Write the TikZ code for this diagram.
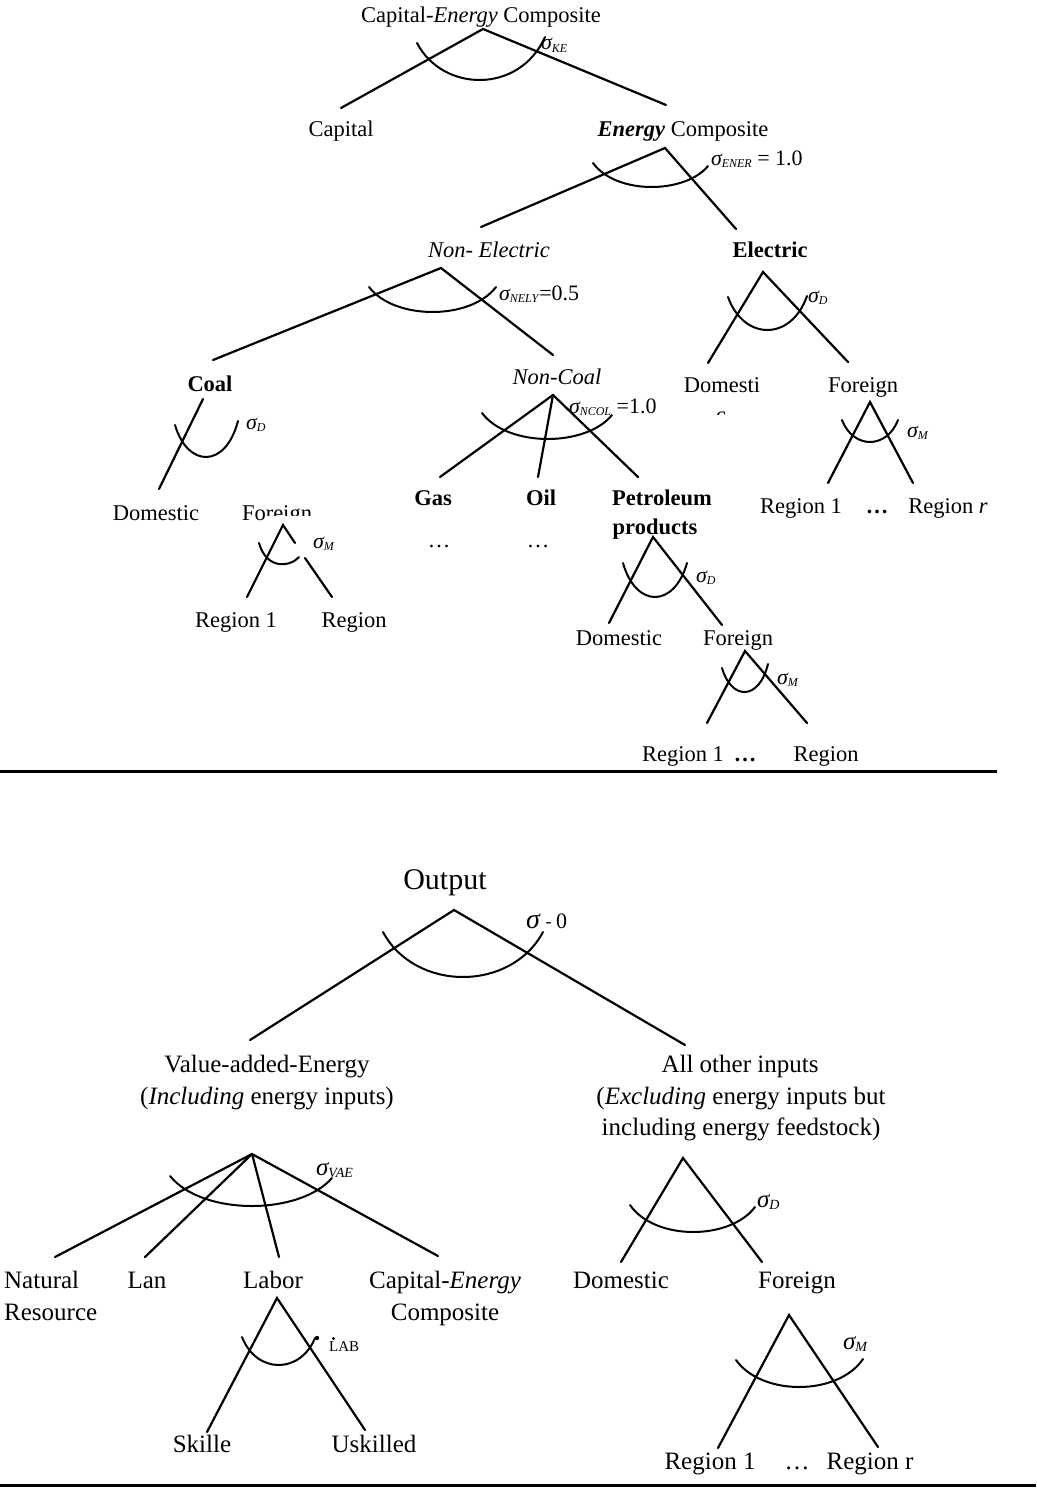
\documentclass[tikz,border=0pt]{standalone}
\usepackage{fontspec}
\setmainfont{Liberation Serif}
\usetikzlibrary{calc}
\newcommand\sgm[1]{\textit{σ}\kern-1pt\raisebox{-2pt}{\fontsize{12}{12}\selectfont\textit{#1}}}
\newcommand\sgmb[1]{\textit{σ}\kern-1pt\raisebox{-2pt}{\fontsize{14}{14}\selectfont\textit{#1}}}
\newcommand\uarc[3]{%
  \coordinate (ua) at (#1); \coordinate (ub) at (#2); \coordinate (uc) at (#3);
  \draw[arcst] let \p1=(ua), \p2=(ub), \p3=(uc) in
    (\p1) .. controls (\x1+0.2*\x3-0.2*\x1, \y1+1.333*\y2-1.333*\y1)
             and (\x3-0.2*\x3+0.2*\x1, \y3+1.333*\y2-1.333*\y3) .. (\p3);}
\tikzset{
  br/.style={line width=2.2pt, line cap=round},
  arcst/.style={line width=2pt, line cap=round},
  sep/.style={line width=3pt},
  lt/.style={anchor=base, inner sep=0pt, font=\fontsize{22.5}{24}\selectfont},
  lb/.style={anchor=base, inner sep=0pt, font=\fontsize{25}{27}\selectfont},
  lo/.style={anchor=base, inner sep=0pt, font=\fontsize{30}{32}\selectfont},
  sgl/.style={anchor=base west, inner sep=0pt, font=\fontsize{22}{24}\selectfont},
  sglb/.style={anchor=base west, inner sep=0pt, font=\fontsize{25}{26}\selectfont},
}
\begin{document}
\begin{tikzpicture}[x=1pt,y=-1pt]
\useasboundingbox (0,0) rectangle (1036,1488);
\fill[white] (0,0) rectangle (1036,1488);

% ---------------- top section: text ----------------
\node[lt] (cec) at (481,23) {Capital-\textit{Energy} Composite};
\node[lt] (cap) at (341,136) {Capital};
\node[lt] (enc) at (683,136) {\textbf{\textit{Energy}} Composite};
\node[lt] (nel) at (489,257) {\textit{Non- Electric}};
\node[lt] (ele) at (770,257) {\textbf{Electric}};
\node[lt] (coal) at (210,391) {\textbf{Coal}};
\node[lt] (nco) at (557,384) {\textit{Non-Coal}};
\node[lt] (edom) at (722,392) {Domesti};
\begin{scope}
  \clip (700,408) rectangle (745,414.5);
  \node[lt] (edomc) at (721,422) {c};
\end{scope}
\node[lt] (efor) at (863,392) {Foreign};
\node[lt] (cdom) at (156,520) {Domestic};
\node[lt] (cfor) at (277,520) {Foreign};
\fill[white] (266,515.5) rectangle (318,530);
\node[lt] (cr1) at (236,627) {Region 1};
\node[lt] (cr2) at (354,627) {Region};
\node[lt] (gas) at (433,505) {\textbf{Gas}};
\node[lt] (oil) at (541,505) {\textbf{Oil}};
\node[lt] (pet) at (662,505) {\textbf{Petroleum}};
\node[lt] (prd) at (655,534) {\textbf{products}};
\node[lt] (gdots) at (439,547) {…};
\node[lt] (odots) at (538,547) {…};
\node[lt] (pdom) at (619,645) {Domestic};
\node[lt] (pfor) at (738,645) {Foreign};
\node[lt] (pr1) at (683,761) {Region 1};
\node[lt] (pdots) at (745,761) {\textbf{…}};
\node[lt] (pr2) at (826,761) {Region};
\node[lt] (er1) at (801,513) {Region 1};
\node[lt] (edots) at (877,513) {\textbf{…}};
\node[lt] (er2) at (948,513) {Region \textit{r}};

% sigma labels (top)
\node[sgl] (s1) at (541,50) {\sgm{KE}};
\node[sgl] (s2) at (711,165) {\sgm{ENER} = 1.0};
\node[sgl] (s3) at (499,300) {\sgm{NELY}=0.5};
\node[sgl] (s4) at (808,302) {\sgm{D}};
\node[sgl] (s5) at (246,429) {\sgm{D}};
\node[sgl] (s6) at (569,413) {\sgm{NCOL} =1.0};
\node[sgl] (s7) at (907,437) {\sgm{M}};
\node[sgl] (s8) at (313,548) {\sgm{M}};
\node[sgl] (s9) at (696,582) {\sgm{D}};
\node[sgl] (s10) at (777,684) {\sgm{M}};

% ---------------- top section: branches ----------------
% Capital-Energy Composite
\coordinate (a1) at (483,29);
\coordinate (a1l) at (341,108);
\coordinate (a1r) at (666,105);
\draw[br] (a1l) -- (a1) -- (a1r);
\uarc{417,43}{482,80}{545,37}
% Energy Composite
\coordinate (a2) at (665,148);
\coordinate (a2l) at (481,227);
\coordinate (a2r) at (736,229);
\draw[br] (a2l) -- (a2) -- (a2r);
\uarc{593,163}{647,187}{708,166}
% Non-Electric
\coordinate (a3) at (441,268);
\coordinate (a3l) at (213,360);
\coordinate (a3r) at (553,355);
\draw[br] (a3l) -- (a3) -- (a3r);
\uarc{369,287}{433,312}{496,287}
% Electric
\coordinate (a4) at (763,272);
\coordinate (a4l) at (708,363);
\coordinate (a4r) at (848,362);
\draw[br] (a4l) -- (a4) -- (a4r);
\uarc{728,297}{763,330}{807,296}
% Coal
\coordinate (a5) at (203,399);
\coordinate (a5l) at (159,489);
\draw[br] (a5) -- (a5l);
\uarc{175,425}{207,457}{238,421}
% Electric foreign
\coordinate (a6) at (870,402);
\coordinate (a6l) at (828,483);
\coordinate (a6r) at (913,483);
\draw[br] (a6l) -- (a6) -- (a6r);
\uarc{842,420}{868,442}{898,420}
% Coal foreign
\coordinate (a7) at (283,525);
\coordinate (a7l) at (247,597);
\coordinate (a7m) at (295,543);
\coordinate (a7s) at (305,558);
\coordinate (a7r) at (332,597);
\draw[br] (a7l) -- (a7) -- (a7m);
\draw[br] (a7s) -- (a7r);
\uarc{259,543}{281,564}{299,557}
% Non-Coal
\coordinate (a8) at (553,395);
\coordinate (a8l) at (440,477);
\coordinate (a8m) at (538,477);
\coordinate (a8r) at (638,477);
\draw[br] (a8l) -- (a8) -- (a8r);
\draw[br] (a8) -- (a8m);
\uarc{482,413}{547,439}{612,415}
% Petroleum products
\coordinate (a9) at (653,537);
\coordinate (a9l) at (609,623);
\coordinate (a9r) at (722,625);
\draw[br] (a9l) -- (a9) -- (a9r);
\uarc{623,563}{655,597}{687,563}
% Petroleum foreign
\coordinate (a10) at (745,651);
\coordinate (a10l) at (707,723);
\coordinate (a10r) at (807,723);
\draw[br] (a10l) -- (a10) -- (a10r);
\uarc{722,668}{745,692}{768,664}

% separators
\coordinate (sepa) at (0,771);
\coordinate (sepb) at (997,771);
\draw[sep] (sepa) -- (sepb);
\coordinate (sepc) at (0,1485);
\coordinate (sepd) at (1036,1485);
\draw[sep] (sepc) -- (sepd);

% ---------------- bottom section: text ----------------
\node[lo] (out) at (445,889) {Output};
\node[anchor=base west, inner sep=0pt] (s11) at (526,928)
  {\fontsize{28}{30}\selectfont\textit{σ}\,\raisebox{1pt}{\fontsize{18}{18}\selectfont -}\,\fontsize{22}{24}\selectfont 0};
\node[lb] (vae) at (267,1072) {Value-added-Energy};
\node[lb] (vae2) at (267,1104) {(\textit{Including} energy inputs)};
\node[lb] (aoi) at (740,1072) {All other inputs};
\node[lb] (aoi2) at (741,1104) {(\textit{Excluding} energy inputs but};
\node[lb] (aoi3) at (741,1135) {including energy feedstock)};
\node[lb, anchor=base west] (nr) at (4,1288) {Natural};
\node[lb, anchor=base west] (nr2) at (4,1320) {Resource};
\node[lb] (lan) at (147,1288) {Lan};
\node[lb] (lab) at (273,1288) {Labor};
\node[lb] (bce) at (445,1288) {Capital-\textit{Energy}};
\node[lb] (bce2) at (445,1320) {Composite};
\node[lb] (bdom) at (621,1288) {Domestic};
\node[lb] (bfor) at (797,1288) {Foreign};
\node[lb] (sk) at (202,1452) {Skille};
\node[lb] (usk) at (374,1452) {Uskilled};
\node[lb] (br1) at (710,1469) {Region 1};
\node[lb] (bdots) at (797,1469) {…};
\node[lb] (br2) at (870,1469) {Region r};

\node[sglb] (s12) at (316,1175) {\sgmb{VAE}};
\node[anchor=base west, inner sep=0pt, font=\fontsize{15}{15}\selectfont] (s13) at (329,1351) {LAB};
\fill (333.5,1338.5) circle (1.6pt);
\node[sglb] (s14) at (757,1207) {\sgmb{D}};
\node[sglb] (s15) at (843,1349) {\sgmb{M}};

% ---------------- bottom section: branches ----------------
% Output
\coordinate (b1) at (454,910);
\coordinate (b1l) at (250,1040);
\coordinate (b1r) at (685,1045);
\draw[br] (b1l) -- (b1) -- (b1r);
\uarc{383,932}{460,977}{543,932}
% Value-added-Energy
\coordinate (b2) at (252,1154);
\coordinate (b2a) at (55,1257);
\coordinate (b2b) at (145,1257);
\coordinate (b2c) at (279,1257);
\coordinate (b2d) at (438,1256);
\draw[br] (b2a) -- (b2) -- (b2d);
\draw[br] (b2) -- (b2b);
\draw[br] (b2) -- (b2c);
\uarc{170,1176}{256,1206}{332,1178}
% Labor
\coordinate (b3) at (277,1298);
\coordinate (b3l) at (207,1432);
\coordinate (b3r) at (365,1430);
\draw[br] (b3l) -- (b3) -- (b3r);
\uarc{242,1337}{278,1365}{315,1338}
\fill (317,1338) circle (2.2pt);
% All other inputs
\coordinate (b4) at (683,1158);
\coordinate (b4l) at (621,1262);
\coordinate (b4r) at (762,1262);
\draw[br] (b4l) -- (b4) -- (b4r);
\uarc{630,1205}{683,1232}{755,1207}
% Foreign (bottom)
\coordinate (b5) at (789,1315);
\coordinate (b5l) at (718,1448);
\coordinate (b5r) at (878,1447);
\draw[br] (b5l) -- (b5) -- (b5r);
\uarc{736,1360}{800,1387}{863,1359}
\end{tikzpicture}
\end{document}
